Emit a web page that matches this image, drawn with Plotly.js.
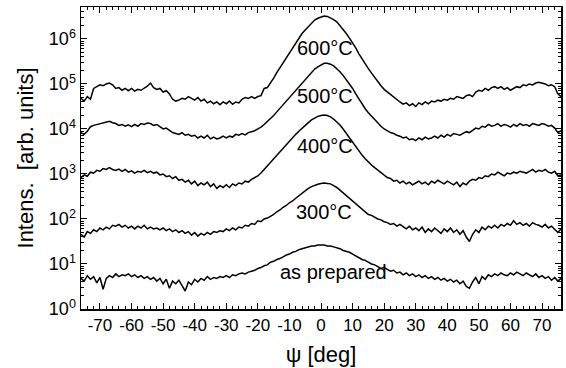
<!DOCTYPE html>
<html><head><meta charset="utf-8">
<script src="https://cdn.plot.ly/plotly-3.0.1.min.js"></script>
<style>html,body{margin:0;padding:0;background:#fff}#c{width:566px;height:368px}</style>
</head><body><div id="c"></div>
<script>
// psi angle (deg), one point per degree
const psi = [];
for (let d = -76; d <= 76; d++) psi.push(d);

// log10 of intensity, psi = -76 ... 76
const log_600C = [4.68,4.62,4.72,4.66,4.9,4.95,4.98,4.96,5.0,5.02,4.98,4.9,4.92,4.86,4.9,4.85,4.9,4.84,4.88,4.86,4.9,4.95,5.02,4.92,4.88,4.9,4.82,4.85,4.78,4.66,4.62,4.64,4.68,4.66,4.72,4.68,4.64,4.7,4.62,4.66,4.58,4.62,4.56,4.6,4.54,4.6,4.56,4.62,4.55,4.6,4.58,4.66,4.7,4.68,4.72,4.68,4.72,4.74,4.9,4.92,5.02,5.13,5.25,5.36,5.46,5.58,5.7,5.82,5.92,6.02,6.12,6.2,6.28,6.36,6.42,6.46,6.49,6.51,6.5,6.47,6.43,6.38,6.3,6.22,6.12,6.02,5.92,5.8,5.67,5.55,5.44,5.34,5.24,5.14,5.04,4.96,4.88,4.82,4.76,4.72,4.64,4.6,4.55,4.58,4.52,4.56,4.5,4.58,4.54,4.6,4.56,4.62,4.6,4.64,4.62,4.66,4.64,4.68,4.66,4.72,4.7,4.68,4.74,4.76,4.72,4.82,4.86,4.84,4.9,4.86,4.92,4.94,4.9,4.94,4.88,4.92,4.86,4.9,4.94,4.92,4.98,4.96,5.0,4.98,5.02,5.04,5.02,5.0,4.96,4.98,4.94,4.78,4.72];
const log_500C = [3.92,3.88,3.95,4.05,4.08,4.1,4.12,4.14,4.16,4.17,4.14,4.12,4.08,4.1,4.06,4.09,4.05,4.1,4.06,4.12,4.1,4.13,4.12,4.08,4.1,4.04,4.0,4.02,3.96,3.92,3.9,3.88,3.92,3.86,3.88,3.84,3.86,3.8,3.84,3.8,3.86,3.78,3.82,3.78,3.8,3.84,3.8,3.84,3.82,3.88,3.86,3.9,3.87,3.92,3.94,3.96,4.0,4.04,4.1,4.16,4.24,4.3,4.38,4.46,4.54,4.62,4.7,4.78,4.86,4.94,5.02,5.1,5.18,5.26,5.33,5.38,5.43,5.46,5.46,5.44,5.4,5.34,5.27,5.19,5.1,5.0,4.9,4.78,4.66,4.55,4.45,4.36,4.28,4.2,4.12,4.06,4.0,3.96,3.92,3.9,3.86,3.84,3.8,3.82,3.76,3.78,3.74,3.8,3.76,3.82,3.78,3.8,3.84,3.8,3.86,3.82,3.88,3.84,3.9,3.88,3.86,3.9,3.94,3.92,3.98,4.02,4.0,4.06,4.04,4.1,4.06,4.08,4.12,4.06,4.1,4.08,4.04,4.1,4.06,4.12,4.08,4.1,4.06,4.12,4.1,4.08,4.12,4.1,4.06,4.08,4.02,3.92,3.96];
const log_400C = [2.92,2.98,2.95,3.04,3.02,3.08,3.06,3.12,3.1,3.14,3.1,3.08,3.11,3.06,3.1,3.04,3.07,3.02,3.06,3.04,3.08,3.03,3.06,3.02,3.04,2.98,3.0,2.94,2.96,2.9,2.94,2.86,2.88,2.82,2.86,2.78,2.84,2.74,2.8,2.76,2.82,2.72,2.78,2.68,2.74,2.7,2.76,2.7,2.78,2.74,2.8,2.78,2.84,2.82,2.88,2.92,2.96,3.02,3.1,3.18,3.25,3.32,3.4,3.48,3.56,3.64,3.72,3.8,3.88,3.95,4.02,4.08,4.14,4.2,4.24,4.28,4.3,4.31,4.3,4.27,4.22,4.16,4.09,4.0,3.9,3.8,3.7,3.6,3.5,3.42,3.34,3.26,3.2,3.14,3.08,3.02,2.98,2.92,2.9,2.84,2.86,2.8,2.84,2.78,2.82,2.76,2.8,2.84,2.78,2.82,2.76,2.84,2.8,2.86,2.82,2.78,2.84,2.8,2.76,2.82,2.72,2.8,2.76,2.84,2.88,2.86,2.92,2.9,2.96,2.94,3.0,2.98,3.04,3.0,2.96,3.02,3.0,3.04,3.02,3.06,3.04,3.02,3.06,3.1,3.04,3.08,3.06,3.1,3.04,3.02,3.06,2.96,2.98];
const log_300C = [1.66,1.6,1.72,1.68,1.76,1.72,1.8,1.76,1.82,1.78,1.86,1.84,1.88,1.82,1.86,1.8,1.84,1.78,1.84,1.8,1.86,1.78,1.82,1.78,1.8,1.76,1.8,1.74,1.78,1.72,1.76,1.7,1.74,1.68,1.72,1.64,1.7,1.62,1.68,1.64,1.7,1.66,1.72,1.7,1.74,1.72,1.78,1.74,1.8,1.76,1.82,1.8,1.86,1.84,1.9,1.88,1.96,1.94,2.0,2.02,2.06,2.1,2.16,2.2,2.26,2.3,2.36,2.4,2.46,2.52,2.58,2.64,2.68,2.72,2.75,2.77,2.79,2.8,2.79,2.78,2.74,2.7,2.64,2.58,2.52,2.44,2.38,2.32,2.26,2.2,2.16,2.1,2.08,2.04,2.0,1.98,1.94,1.92,1.88,1.9,1.84,1.88,1.82,1.78,1.84,1.76,1.8,1.74,1.82,1.7,1.78,1.72,1.8,1.74,1.68,1.78,1.72,1.8,1.7,1.76,1.66,1.74,1.6,1.5,1.66,1.76,1.7,1.82,1.76,1.84,1.8,1.86,1.8,1.88,1.84,1.9,1.86,1.96,1.88,1.92,1.86,1.9,1.84,1.92,1.88,1.86,1.82,1.88,1.8,1.84,1.76,1.7,1.78];
const log_asPrepared = [0.68,0.62,0.74,0.66,0.72,0.58,0.7,0.44,0.68,0.74,0.7,0.78,0.72,0.76,0.74,0.78,0.72,0.76,0.7,0.74,0.68,0.72,0.66,0.7,0.62,0.68,0.56,0.66,0.46,0.62,0.56,0.64,0.52,0.4,0.6,0.54,0.66,0.6,0.68,0.64,0.72,0.66,0.7,0.68,0.72,0.7,0.74,0.7,0.76,0.74,0.78,0.8,0.78,0.82,0.84,0.86,0.9,0.92,0.96,0.98,1.04,1.06,1.1,1.12,1.16,1.2,1.22,1.26,1.28,1.32,1.34,1.36,1.38,1.4,1.4,1.42,1.42,1.42,1.4,1.4,1.38,1.36,1.34,1.3,1.28,1.26,1.22,1.18,1.14,1.1,1.08,1.04,1.0,0.98,0.94,0.9,0.92,0.88,0.84,0.86,0.8,0.82,0.76,0.8,0.74,0.78,0.72,0.76,0.7,0.74,0.68,0.72,0.66,0.7,0.64,0.68,0.62,0.66,0.6,0.64,0.56,0.62,0.5,0.46,0.6,0.7,0.56,0.72,0.66,0.76,0.72,0.78,0.74,0.8,0.76,0.74,0.8,0.76,0.82,0.78,0.74,0.8,0.76,0.72,0.78,0.7,0.74,0.68,0.72,0.64,0.7,0.62,0.68];

const seriesNames = ["600°C","500°C","400°C","300°C","as prepared"];
const seriesLogs = [log_600C, log_500C, log_400C, log_300C, log_asPrepared];
// label positions (psi, log10 intensity)
const labelPsi = [1.3, 1.3, 1.3, 0.8, 3.8];
const labelLog = [5.8, 4.73, 3.62, 2.16, 0.82];

const yTickVals = [1,10,100,1e3,1e4,1e5,1e6];
const yTickText = ["10<sup>0</sup>","10<sup>1</sup>","10<sup>2</sup>","10<sup>3</sup>","10<sup>4</sup>","10<sup>5</sup>","10<sup>6</sup>"];
const xTickVals = [-70,-60,-50,-40,-30,-20,-10,0,10,20,30,40,50,60,70];
const xTickText = ["-70","-60","-50","-40","-30","-20","-10","0","10","20","30","40","50","60","70"];

const traces = seriesLogs.map((arr, i) => ({
  x: psi, y: arr.map(v => Math.pow(10, v)), type: 'scatter', mode: 'lines',
  name: seriesNames[i], line: {color: '#000', width: 1.5}, hoverinfo: 'skip'
}));

const ff = 'Liberation Sans, Arial, sans-serif';
const layout = {
  width: 566, height: 368,
  margin: {l: 81, r: 5, t: 7, b: 59},
  paper_bgcolor: '#fff', plot_bgcolor: '#fff',
  showlegend: false,
  font: {family: ff, size: 17, color: '#000'},
  xaxis: {
    range: [-76, 76], tickvals: xTickVals, ticktext: xTickText,
    ticks: 'inside', ticklen: 6, tickwidth: 1, tickcolor: '#000',
    minor: {ticks: 'inside', ticklen: 3, dtick: 2, tickcolor: '#000'},
    showline: true, linecolor: '#000', linewidth: 1.5, mirror: 'allticks',
    showgrid: false, zeroline: false,
    tickfont: {size: 17, family: ff, color: '#000'},
    title: {text: 'ψ [deg]', font: {size: 22, family: ff, color: '#000'}, standoff: 12}
  },
  yaxis: {
    type: 'log', range: [0, 6.71],
    tickvals: yTickVals, ticktext: yTickText,
    ticks: 'inside', ticklen: 6, tickwidth: 1, tickcolor: '#000',
    minor: {ticks: 'inside', ticklen: 3, dtick: 'D1', tickcolor: '#000'},
    showline: true, linecolor: '#000', linewidth: 1.5, mirror: 'allticks',
    showgrid: false, zeroline: false,
    tickfont: {size: 18, family: ff, color: '#000'},
    title: {text: 'Intens.  [arb. units]', font: {size: 22, family: ff, color: '#000'}, standoff: 9}
  },
  annotations: seriesNames.map((n, i) => ({
    x: labelPsi[i], y: labelLog[i], xref: 'x', yref: 'y', text: n,
    showarrow: false, font: {size: 20, family: ff, color: '#000'}
  }))
};
Plotly.newPlot('c', traces, layout, {staticPlot: true});
</script></body></html>
